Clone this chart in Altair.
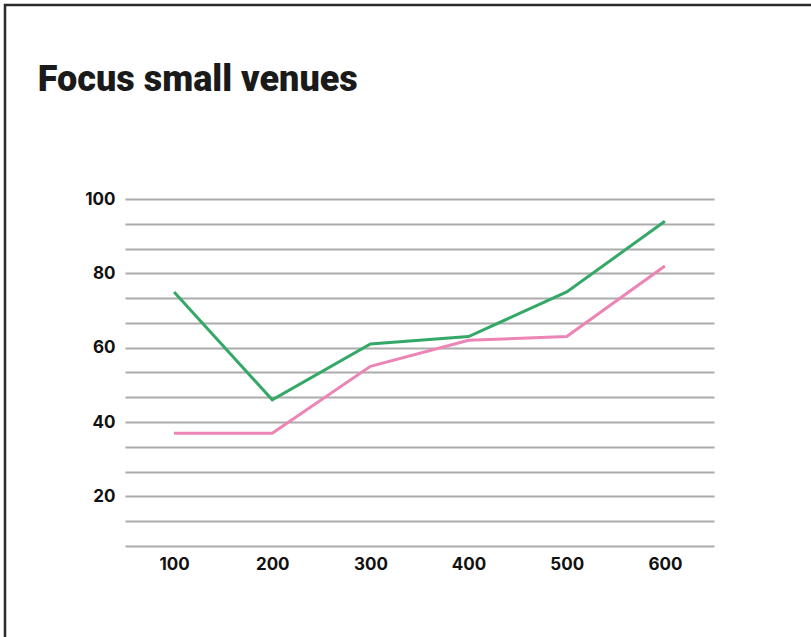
import altair as alt
import pandas as pd

# Ticket price tiers on the x axis and the two series plotted against them
tiers = ["100", "200", "300", "400", "500", "600"]
series_a = [75, 46, 61, 63, 75, 94]
series_b = [37, 37, 55, 62, 63, 82]
series_names = ["A", "B"]
series_colors = ["#34a866", "#ec84b6"]

# Y grid every 20/3 units, labelled only at multiples of 20
grid_values = [k * 20 / 3 for k in range(1, 16)]

rows = []
for name, vals in zip(series_names, [series_a, series_b]):
    for t, v in zip(tiers, vals):
        rows.append({"tier": t, "value": v, "series": name})
df = pd.DataFrame(rows)

lines = alt.Chart(df).mark_line(strokeWidth=3).encode(
    x=alt.X(
        "tier:O",
        sort=tiers,
        scale=alt.Scale(type="point", padding=0.5),
        axis=alt.Axis(
            title=None,
            labelAngle=0,
            labelFont="Inter",
            labelFontWeight="bold",
            labelFontSize=17,
            labelColor="#111111",
            labelPadding=10,
            ticks=False,
            domain=False,
            grid=False,
        ),
    ),
    y=alt.Y(
        "value:Q",
        scale=alt.Scale(domain=[20 / 3, 100], nice=False, zero=False),
        axis=alt.Axis(
            title=None,
            values=grid_values,
            labelExpr="round(datum.value) % 20 == 0 ? format(round(datum.value), 'd') : ''",
            labelFont="Inter",
            labelFontWeight="bold",
            labelFontSize=17,
            labelColor="#111111",
            labelPadding=10,
            ticks=False,
            domain=False,
            grid=True,
            gridColor="#ababab",
            gridWidth=2,
        ),
    ),
    color=alt.Color(
        "series:N",
        scale=alt.Scale(domain=series_names, range=series_colors),
        legend=None,
    ),
)

# Outer frame around the whole graphic
frame = alt.Chart(alt.Data(values=[{}])).mark_rect(
    fill=None, stroke="#2b2b2b", strokeWidth=2.5
).encode(
    x=alt.value(-120),
    x2=alt.value(720),
    y=alt.value(-194),
    y2=alt.value(470),
)

chart = (
    alt.layer(frame, lines)
    .properties(
        width=589,
        height=347,
        autosize=alt.AutoSizeParams(type="none"),
        padding={"left": 125, "top": 199, "right": 97, "bottom": 91},
        title=alt.TitleParams(
            "Focus small venues",
            anchor="start",
            font="Roboto",
            fontWeight=900,
            fontSize=36,
            color="#1a1a1a",
            dx=34,
            offset=-123,
            baseline="alphabetic",
        ),
        background="white",
    )
    .configure_view(stroke=None)
)

chart.save("out.html", embed_options={"renderer": "svg", "actions": False})
